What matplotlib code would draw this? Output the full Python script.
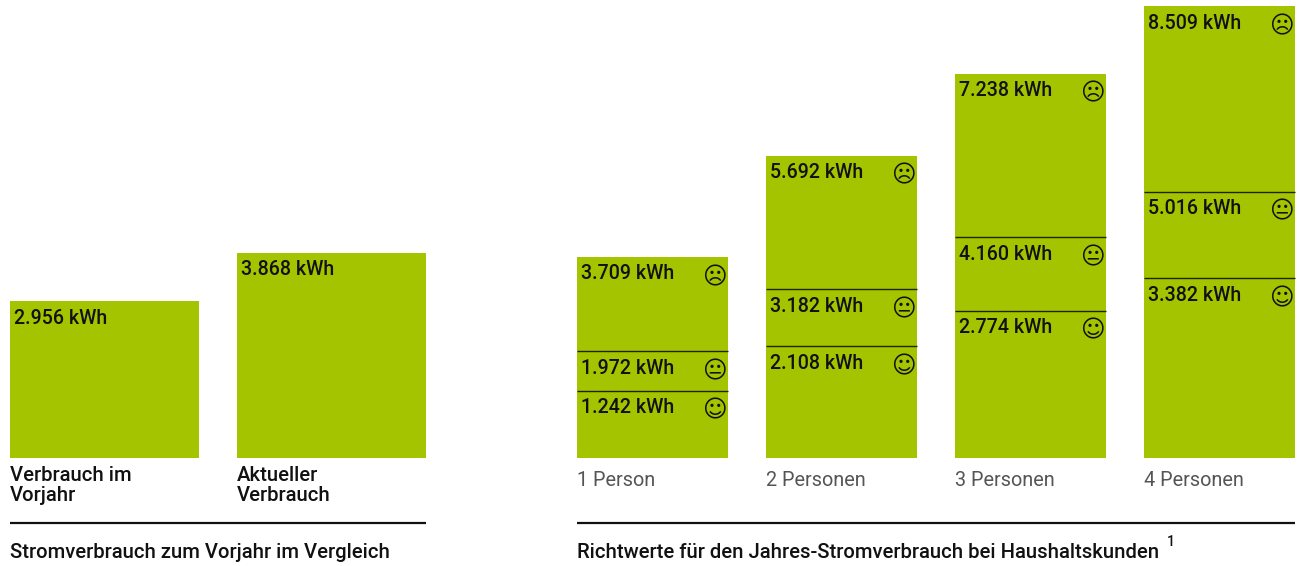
import matplotlib
matplotlib.use("Agg")
import matplotlib.pyplot as plt

# ---- data ----
prev_labels = ["Verbrauch im\nVorjahr", "Aktueller\nVerbrauch"]
prev_values = [2956, 3868]
prev_title = "Stromverbrauch zum Vorjahr im Vergleich"

household_labels = ["1 Person", "2 Personen", "3 Personen", "4 Personen"]
high_values = [3709, 5692, 7238, 8509]
mid_values = [1972, 3182, 4160, 5016]
low_values = [1242, 2108, 2774, 3382]
household_title = "Richtwerte für den Jahres-Stromverbrauch bei Haushaltskunden"
footnote = "1"

# ---- style / layout ----
W, H = 1301, 566
GREEN = "#a4c400"
INK = "#111111"
FONT = "Roboto"
FS = 14.6
FS_VAL = 14.1
FS_PERSON = 14.3
BASE = 458            # baseline, px from top
SCALE = 0.0531        # px per kWh
SCALE_FIRST = 0.0542  # the "1 Person" column is drawn slightly taller in the original
FACE_HIGH, FACE_MID, FACE_LOW = "\u2639", "\U0001F610", "\u263A"

fig = plt.figure(figsize=(W / 100, H / 100), dpi=100, facecolor="white")


def panel(left, right, scale):
    """Axes from px `left` to `right`, y=0 on the baseline, in kWh."""
    ax = fig.add_axes([left / W, 0, (right - left) / W, 1])
    ax.set_xlim(left, right)
    ax.set_ylim(-(H - BASE) / scale, BASE / scale)
    ax.axis("off")
    ax.patch.set_alpha(0)
    return ax


def fmt(v):
    return f"{v:,}".replace(",", ".") + " kWh"


def label(ax, x, v, dx=4, dy=-7.5):
    ax.annotate(fmt(v), (x, v), xytext=(dx * 0.72, dy * 0.72), textcoords="offset points",
                ha="left", va="top", fontsize=FS_VAL, color=INK, family=FONT, fontweight="medium")


def face(ax, x, v, glyph):
    ax.annotate(glyph, (x, v), xytext=(0, -8 * 0.72), textcoords="offset points",
                ha="center", va="top", fontsize=17, color=INK, family="DejaVu Sans")


# left panel
axL = panel(0, 560, SCALE)
for x, v, lab in zip([10, 237], prev_values, prev_labels):
    axL.bar(x, v, width=189, align="edge", color=GREEN, linewidth=0)
    label(axL, x, v)
    axL.text(x, -(466 - BASE) / SCALE, lab, ha="left", va="top", fontsize=FS,
             color=INK, family=FONT, linespacing=1.08, fontweight="medium")
axL.plot([10, 426], [-(523 - BASE) / SCALE] * 2, color=INK, lw=1.6, solid_capstyle="butt")
axL.text(10, -(552 - BASE) / SCALE, prev_title, ha="left", va="center", fontsize=FS,
         color=INK, family=FONT, fontweight="medium")

# right panel: one axes per column, shared layout
xs = [577, 766, 955, 1144]
for i, (x, lab, hi, mid, lo) in enumerate(zip(xs, household_labels, high_values, mid_values, low_values)):
    s = SCALE_FIRST if i == 0 else SCALE
    ax = panel(x - 5, x + 156, s)
    ax.bar(x, hi, width=151, align="edge", color=GREEN, linewidth=0)
    for v in (mid, lo):
        ax.plot([x, x + 151], [v, v], color="#222200", lw=1.0, solid_capstyle="butt")
    for v, g in zip((hi, mid, lo), (FACE_HIGH, FACE_MID, FACE_LOW)):
        label(ax, x, v)
        face(ax, x + 137, v, g)
    ax.text(x, -(481 - BASE) / s, lab, ha="left", va="center", fontsize=FS_PERSON,
            color="#555555", family=FONT, fontweight="regular")

axR = panel(560, W, SCALE)
axR.plot([577, 1295], [-(523 - BASE) / SCALE] * 2, color=INK, lw=1.6, solid_capstyle="butt")
axR.text(577, -(552 - BASE) / SCALE, household_title, ha="left", va="center", fontsize=FS,
         color=INK, family=FONT, fontweight="medium")
axR.text(1167, -(541.5 - BASE) / SCALE, footnote, ha="left", va="center", fontsize=10,
         color=INK, family=FONT, fontweight="medium")

fig.savefig("out.png", dpi=100, facecolor="white")
